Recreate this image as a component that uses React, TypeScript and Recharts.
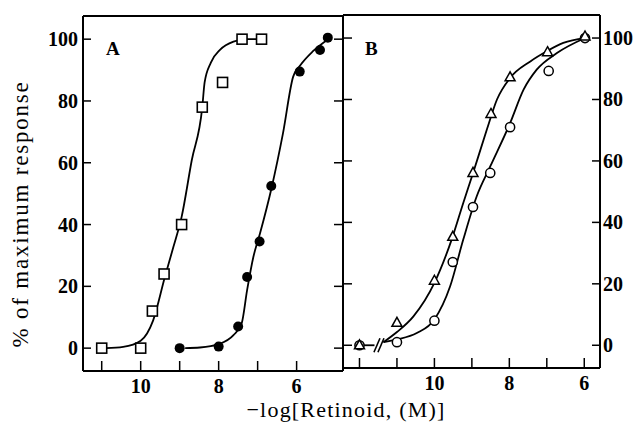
import React from "react";
import { ComposedChart, Line, Scatter, XAxis, YAxis, ReferenceLine } from "recharts";

const FONT = '"Liberation Serif", "Times New Roman", serif';
const Y_DOMAIN: [number, number] = [-7.4, 107.5];
const Y_TICKS = [0, 20, 40, 60, 80, 100];
const X_TICK_LABELS = [10, 8, 6];

// panel A
const A_X_DOMAIN: [number, number] = [4.81, 11.48];
const A_X_TICKS = [11, 10, 9, 8, 7, 6];
const aSquareX = [11, 10, 9.7, 9.4, 8.95, 8.42, 7.9, 7.4, 6.9];
const aSquareY = [0, 0, 12, 24, 40, 78, 86, 100, 100];
const aSquareCurveX = [10.89, 10.45, 10.0, 9.68, 9.38, 9.16, 8.95, 8.69, 8.42, 8.36, 8.2, 7.96, 7.62, 7.28, 6.88];
const aSquareCurveY = [0, 0.4, 2.4, 9, 23, 32.8, 42.5, 60.8, 78, 86, 92.4, 96.6, 99.2, 100, 100];
const aDotX = [9, 8, 7.5, 7.27, 6.95, 6.65, 5.92, 5.4, 5.2];
const aDotY = [0, 0.5, 7, 23, 34.5, 52.5, 89.5, 96.5, 100.5];
const aDotCurveX = [8.86, 8.48, 8.0, 7.62, 7.41, 7.27, 7.11, 6.94, 6.64, 6.35, 6.09, 5.92, 5.58, 5.19];
const aDotCurveY = [0, 0.2, 1.3, 4.2, 8, 18.8, 29.5, 37.1, 52, 69.5, 87.8, 91.3, 96.1, 100];

// panel B
const B_X_DOMAIN: [number, number] = [5.58, 12.44];
const B_X_TICKS = [12, 11, 10, 9, 8, 7, 6];
const bTriX = [12, 11, 10, 9.51, 8.97, 8.49, 7.98, 6.98, 5.98];
const bTriY = [0, 7.3, 21, 35.3, 56.1, 75.3, 87.2, 95.4, 100.5];
const bTriCurveX = [11.36, 11.0, 10.56, 10.0, 9.54, 9.23, 8.97, 8.6, 8.33, 7.98, 7.44, 7.0, 6.56, 5.98];
const bTriCurveY = [1, 4.3, 9.4, 20.3, 34.4, 46.3, 56, 70.2, 80, 87, 92.4, 95.7, 98.4, 100];
const bCircX = [12, 11, 10, 9.51, 8.97, 8.51, 7.98, 6.95, 5.98];
const bCircY = [0, 1, 8, 27.1, 45, 56.1, 71, 89.3, 100];
const bCircCurveX = [11.36, 11.0, 10.47, 10.0, 9.58, 9.23, 8.87, 8.51, 7.98, 7.62, 7.27, 6.73, 5.98];
const bCircCurveY = [1, 1.9, 4, 8.4, 19.2, 34.4, 48.5, 58.2, 72.3, 83.2, 89.7, 95.1, 100];
const bBaseX = [12, 11.6];
const bBaseY = [0, 0];
const bBreakX = [11.48];
const bBreakY = [0];

const pts = (xs: number[], ys: number[]) => xs.map((x, i) => ({ x, y: ys[i] }));

const OpenSquare = (p: any) => (
  <rect x={p.cx - 5} y={p.cy - 5} width={10} height={10} fill="#fff" stroke="#000" strokeWidth={1.6} />
);
const FilledCircle = (p: any) => <circle cx={p.cx} cy={p.cy} r={5} fill="#000" />;
const OpenCircle = (p: any) => (
  <circle cx={p.cx} cy={p.cy} r={4.6} fill="#fff" stroke="#000" strokeWidth={1.5} />
);
const OpenTriangle = (p: any) => (
  <polygon
    points={`${p.cx},${p.cy - 5.5} ${p.cx + 5},${p.cy + 3.5} ${p.cx - 5},${p.cy + 3.5}`}
    fill="#fff"
    stroke="#000"
    strokeWidth={1.5}
  />
);
const BreakMark = (p: any) => (
  <g stroke="#000" strokeWidth={1.6}>
    <line x1={p.cx - 5} y1={p.cy + 7} x2={p.cx + 1} y2={p.cy - 7} />
    <line x1={p.cx - 1} y1={p.cy + 7} x2={p.cx + 5} y2={p.cy - 7} />
  </g>
);

const LeftTick = ({ x, y, payload }: any) => (
  <g>
    <line x1={x} y1={y} x2={x + 8} y2={y} stroke="#000" strokeWidth={1.5} />
    <text x={x - 5} y={y} dy={7} textAnchor="end" fontFamily={FONT} fontSize={20} fontWeight="bold">
      {payload.value}
    </text>
  </g>
);
const LeftTickBare = ({ x, y }: any) => <line x1={x} y1={y} x2={x + 9} y2={y} stroke="#000" strokeWidth={1.5} />;
const RightTickBare = ({ x, y }: any) => <line x1={x - 9} y1={y} x2={x} y2={y} stroke="#000" strokeWidth={1.5} />;
const RightTick = ({ x, y, payload }: any) => (
  <g>
    <line x1={x - 8} y1={y} x2={x} y2={y} stroke="#000" strokeWidth={1.5} />
    <text x={x + 3} y={y} dy={7} textAnchor="start" fontFamily={FONT} fontSize={20} fontWeight="bold">
      {payload.value}
    </text>
  </g>
);
const BottomTick = ({ x, y, payload }: any) => (
  <g>
    <line x1={x} y1={y} x2={x} y2={y - 10} stroke="#000" strokeWidth={1.5} />
    {X_TICK_LABELS.includes(payload.value) && (
      <text x={x} y={y + 22} textAnchor="middle" fontFamily={FONT} fontSize={20} fontWeight="bold">
        {payload.value}
      </text>
    )}
  </g>
);

const axisLine = { stroke: "#000", strokeWidth: 2 };

function PanelA() {
  return (
    <ComposedChart width={643} height={428} margin={{ top: 16, right: 280, bottom: 0, left: 0 }}>
      <XAxis
        type="number"
        dataKey="x"
        domain={A_X_DOMAIN}
        allowDataOverflow
        reversed
        ticks={A_X_TICKS}
        height={57}
        tickSize={0}
        tickMargin={0}
        tickLine={false}
        axisLine={axisLine}
        tick={<BottomTick />}
      />
      <YAxis
        type="number"
        dataKey="y"
        domain={Y_DOMAIN}
        allowDataOverflow
        ticks={Y_TICKS}
        width={83}
        tickSize={0}
        tickMargin={0}
        tickLine={false}
        axisLine={axisLine}
        tick={<LeftTick />}
      />
      <YAxis
        yAxisId="r"
        orientation="right"
        type="number"
        dataKey="y"
        domain={Y_DOMAIN}
        allowDataOverflow
        ticks={Y_TICKS}
        width={20}
        tickSize={0}
        tickMargin={0}
        tickLine={false}
        axisLine={axisLine}
        tick={<RightTickBare />}
      />
      <ReferenceLine y={Y_DOMAIN[1]} stroke="#000" strokeWidth={2} />
      <Line data={pts(aSquareCurveX, aSquareCurveY)} dataKey="y" type="monotone" stroke="#000" strokeWidth={1.8} dot={false} isAnimationActive={false} />
      <Line data={pts(aDotCurveX, aDotCurveY)} dataKey="y" type="monotone" stroke="#000" strokeWidth={1.8} dot={false} isAnimationActive={false} />
      <Scatter data={pts(aSquareX, aSquareY)} shape={OpenSquare} isAnimationActive={false} />
      <Scatter data={pts(aDotX, aDotY)} shape={FilledCircle} isAnimationActive={false} />
    </ComposedChart>
  );
}

function PanelB() {
  return (
    <ComposedChart width={643} height={428} margin={{ top: 15, right: 0, bottom: 0, left: 0 }}>
      <XAxis
        type="number"
        dataKey="x"
        domain={B_X_DOMAIN}
        allowDataOverflow
        reversed
        ticks={B_X_TICKS}
        height={60}
        tickSize={0}
        tickMargin={0}
        tickLine={false}
        axisLine={axisLine}
        tick={<BottomTick />}
      />
      <YAxis
        type="number"
        dataKey="y"
        domain={Y_DOMAIN}
        allowDataOverflow
        ticks={Y_TICKS}
        width={343}
        tickSize={0}
        tickMargin={0}
        tickLine={false}
        axisLine={axisLine}
        tick={<LeftTickBare />}
      />
      <YAxis
        yAxisId="r"
        orientation="right"
        type="number"
        dataKey="y"
        domain={Y_DOMAIN}
        allowDataOverflow
        ticks={Y_TICKS}
        width={43}
        tickSize={0}
        tickMargin={0}
        tickLine={false}
        axisLine={axisLine}
        tick={<RightTick />}
      />
      <ReferenceLine y={Y_DOMAIN[1]} stroke="#000" strokeWidth={2} />
      <Line data={pts(bBaseX, bBaseY)} dataKey="y" type="linear" stroke="#000" strokeWidth={1.8} dot={false} isAnimationActive={false} />
      <Line data={pts(bTriCurveX, bTriCurveY)} dataKey="y" type="monotone" stroke="#000" strokeWidth={1.8} dot={false} isAnimationActive={false} />
      <Line data={pts(bCircCurveX, bCircCurveY)} dataKey="y" type="monotone" stroke="#000" strokeWidth={1.8} dot={false} isAnimationActive={false} />
      <Scatter data={pts(bBreakX, bBreakY)} shape={BreakMark} isAnimationActive={false} />
      <Scatter data={pts(bCircX, bCircY)} shape={OpenCircle} isAnimationActive={false} />
      <Scatter data={pts(bTriX, bTriY)} shape={OpenTriangle} isAnimationActive={false} />
    </ComposedChart>
  );
}

export default function App() {
  return (
    <div style={{ position: "absolute", left: 0, top: 0, width: 643, height: 428, background: "#fff", overflow: "hidden" }}>
      <div style={{ position: "absolute", left: 0, top: 0 }}>
        <PanelA />
      </div>
      <div style={{ position: "absolute", left: 0, top: 0 }}>
        <PanelB />
      </div>
      <svg width={643} height={428} style={{ position: "absolute", left: 0, top: 0, pointerEvents: "none" }}>
        <text x={106} y={55} fontFamily={FONT} fontSize={19} fontWeight="bold">A</text>
        <text x={365} y={55} fontFamily={FONT} fontSize={19} fontWeight="bold">B</text>
        <text x={346} y={417} textAnchor="middle" fontFamily={FONT} fontSize={22} letterSpacing={1.2}>
          −log[Retinoid, (M)]
        </text>
        <text
          x={28}
          y={214}
          textAnchor="middle"
          fontFamily={FONT}
          fontSize={23}
          letterSpacing={1.8}
          transform="rotate(-90, 28, 214)"
        >
          % of maximum response
        </text>
      </svg>
    </div>
  );
}
